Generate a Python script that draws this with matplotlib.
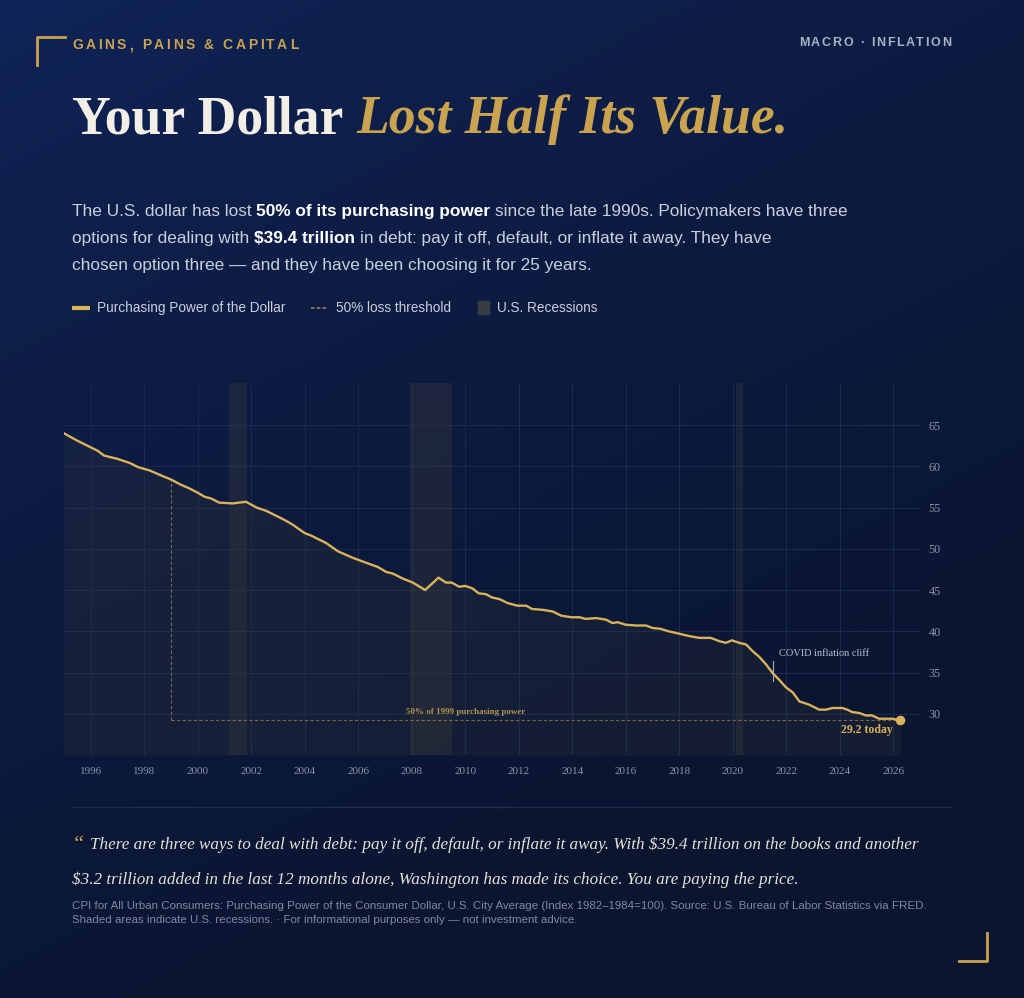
import numpy as np
import matplotlib
matplotlib.use("Agg")
import matplotlib.pyplot as plt
from matplotlib.colors import to_rgb
from matplotlib.lines import Line2D
from matplotlib.patches import Rectangle

# ---------------- data ----------------
years = [1995.0, 1995.5, 1996.0, 1996.25, 1996.5, 1997.0, 1997.46, 1997.77, 1998.2, 1998.7,
         1999.0, 1999.35, 1999.7, 2000.0, 2000.26, 2000.5, 2000.8, 2001.3, 2001.8, 2002.2,
         2002.56, 2003.06, 2003.3, 2003.56, 2004.0, 2004.24, 2004.55, 2004.8, 2005.24, 2005.8,
         2006.3, 2006.73, 2007.04, 2007.29, 2007.66, 2008.04, 2008.5, 2009.0, 2009.28, 2009.5,
         2009.77, 2010.0, 2010.27, 2010.5, 2010.77, 2011.0, 2011.28, 2011.6, 2011.96, 2012.28,
         2012.5, 2012.9, 2013.27, 2013.58, 2013.96, 2014.27, 2014.5, 2014.9, 2015.27, 2015.5,
         2015.7, 2015.99, 2016.38, 2016.76, 2017.0, 2017.3, 2017.6, 2018.0, 2018.4, 2018.75,
         2019.18, 2019.5, 2019.74, 2019.97, 2020.24, 2020.5, 2020.74, 2020.99, 2021.24, 2021.5,
         2021.74, 2021.99, 2022.24, 2022.49, 2022.86, 2023.23, 2023.48, 2023.73, 2024.1, 2024.28,
         2024.47, 2024.72, 2024.97, 2025.2, 2025.47, 2025.72, 2025.97, 2026.26]
power = [64.0, 63.1, 62.3, 61.9, 61.3, 60.9, 60.4, 59.9, 59.5, 58.8,
         58.4, 57.8, 57.3, 56.8, 56.3, 56.1, 55.6, 55.5, 55.7, 55.0,
         54.6, 53.8, 53.4, 52.9, 51.9, 51.6, 51.1, 50.7, 49.7, 48.9,
         48.3, 47.8, 47.2, 47.0, 46.4, 45.9, 45.0, 46.5, 45.9, 45.9,
         45.4, 45.5, 45.2, 44.6, 44.5, 44.1, 43.9, 43.4, 43.1, 43.1,
         42.7, 42.6, 42.4, 41.9, 41.7, 41.7, 41.5, 41.6, 41.4, 41.0,
         41.1, 40.8, 40.7, 40.7, 40.4, 40.3, 40.0, 39.7, 39.4, 39.2,
         39.2, 38.8, 38.6, 38.9, 38.6, 38.4, 37.6, 36.9, 36.0, 34.9,
         34.1, 33.2, 32.6, 31.5, 31.1, 30.5, 30.5, 30.7, 30.7, 30.5,
         30.2, 30.1, 29.8, 29.8, 29.4, 29.4, 29.4, 29.2]
recession_starts = [2001.17, 2007.95, 2020.13]
recession_ends = [2001.83, 2009.5, 2020.4]
base_year = 1999.0
threshold = 29.2
x_ticks = list(range(1996, 2027, 2))
y_ticks = [30, 35, 40, 45, 50, 55, 60, 65]
covid_year = 2021.5
covid_label = "COVID inflation cliff"

# ---------------- styling ----------------
W, H = 1024, 998
GOLD = "#c9a34f"
LINE = "#d9b25c"
SERIF = "Liberation Serif"
SANS = "Liberation Sans"

fig = plt.figure(figsize=(W / 100, H / 100), dpi=100)

# background gradient
bg = fig.add_axes([0, 0, 1, 1])
bg.set_axis_off()
u = np.linspace(0, 1, 256)[None, :]
v = np.linspace(0, 1, 256)[:, None]
t = np.clip(0.45 * u + 0.85 * v, 0, 1) ** 0.7
c0 = np.array(to_rgb("#10255a"))
c1 = np.array(to_rgb("#0a1530"))
img = c0[None, None, :] * (1 - t[..., None]) + c1[None, None, :] * t[..., None]
bg.imshow(img, extent=[0, 1, 0, 1], aspect="auto", origin="upper")
bg.set_xlim(0, 1)
bg.set_ylim(0, 1)

renderer = fig.canvas.get_renderer()


def fx(x):
    return x / W


def fy(y):
    return 1 - y / H


def measure(s, **kw):
    tt = fig.text(0, 0, s, **kw)
    w = tt.get_window_extent(renderer).width
    tt.remove()
    return w


def space_width(**kw):
    return measure("x x", **kw) - measure("xx", **kw)


def draw_runs(x, y, parts, size, family):
    """parts: list of (text, weight, color, style)"""
    for s, weight, color, style in parts:
        kw = dict(fontsize=size, family=family, fontweight=weight, fontstyle=style)
        sw = space_width(**kw)
        lead = len(s) - len(s.lstrip(" "))
        trail = len(s) - len(s.rstrip(" "))
        core = s.strip(" ")
        x += lead * sw
        fig.text(fx(x), fy(y), core, color=color, va="baseline", ha="left", **kw)
        x += measure(core, **kw) + trail * sw
    return x


def spaced(x, y, s, target_w, ha="left", **kw):
    widths = [measure(c, **kw) if c != " " else space_width(**kw) for c in s]
    nat = sum(widths)
    sp = (target_w - nat) / (len(s) - 1)
    if ha == "right":
        x = x - target_w
    for c, w in zip(s, widths):
        if c != " ":
            fig.text(fx(x), fy(y), c, va="baseline", ha="left", **kw)
        x += w + sp


# corner brackets
fig.add_artist(Line2D([fx(37), fx(37), fx(65)], [fy(65), fy(37), fy(37)], color=GOLD, lw=2))
fig.add_artist(Line2D([fx(959), fx(987), fx(987)], [fy(961), fy(961), fy(933)], color=GOLD, lw=2))

# header
spaced(72, 49, "GAINS, PAINS & CAPITAL", 226, fontsize=10, family=SANS, fontweight="bold", color=GOLD)
spaced(951, 46, "MACRO · INFLATION", 152, ha="right", fontsize=9, family=SANS, fontweight="bold",
       color="#a9b3c6")

# title
draw_runs(72, 133, [("Your Dollar ", "bold", "#f3efe7", "normal"),
                    ("Lost Half Its Value.", "bold", GOLD, "italic")], 38.6, SERIF)

# paragraph
PC = "#c9d0dc"
WH = "#ffffff"
PS = 12.45
draw_runs(72, 216, [("The U.S. dollar has lost ", "normal", PC, "normal"),
                    ("50% of its purchasing power", "bold", WH, "normal"),
                    (" since the late 1990s. Policymakers have three", "normal", PC, "normal")], PS, SANS)
draw_runs(72, 243, [("options for dealing with ", "normal", PC, "normal"),
                    ("$39.4 trillion", "bold", WH, "normal"),
                    (" in debt: pay it off, default, or inflate it away. They have", "normal", PC, "normal")],
          PS, SANS)
draw_runs(72, 270, [("chosen option three \u2014 and they have been choosing it for 25 years.", "normal", PC, "normal")],
          PS, SANS)

# legend
LC = "#c9d0dc"
LS = 9.8
fig.add_artist(Line2D([fx(72), fx(90)], [fy(308), fy(308)], color=LINE, lw=3, solid_capstyle="butt"))
fig.text(fx(97), fy(312), "Purchasing Power of the Dollar", fontsize=LS, family=SANS, color=LC, va="baseline")
fig.add_artist(Line2D([fx(311), fx(328)], [fy(308), fy(308)], color="#8c7b52", lw=1.3, ls=(0, (2, 1.2))))
fig.text(fx(336), fy(312), "50% loss threshold", fontsize=LS, family=SANS, color=LC, va="baseline")
fig.add_artist(Rectangle((fx(478), fy(314)), 11 / W, 13 / H, color="#383b45", transform=fig.transFigure))
fig.text(fx(497), fy(312), "U.S. Recessions", fontsize=LS, family=SANS, color=LC, va="baseline")

# ---------------- chart ----------------
ax = fig.add_axes([64 / W, 1 - 755 / H, (920 - 64) / W, (755 - 383) / H])
ax.set_facecolor("none")
ax.set_xlim(1995.0, 2027.0)
ax.set_ylim(25.0, 70.1)
for s in ax.spines.values():
    s.set_visible(False)
ax.set_xticks(x_ticks)
ax.set_yticks(y_ticks)
ax.yaxis.tick_right()
ax.tick_params(axis="both", length=0, colors="#8995ab", labelsize=8)
ax.tick_params(axis="y", pad=6)
ax.tick_params(axis="x", pad=9)
ax.set_yticklabels([str(v) for v in y_ticks], fontsize=8.7)
for lab in ax.get_xticklabels() + ax.get_yticklabels():
    lab.set_fontfamily(SERIF)
ax.grid(True, color="#1b2a4c", lw=0.8)
ax.set_axisbelow(True)

for a, b in zip(recession_starts, recession_ends):
    ax.axvspan(a, b, color="#3a3a3a", alpha=0.36, lw=0, zorder=1)

ax.fill_between(years, power, 25.0, color="#3a3a3a", alpha=0.22, lw=0, zorder=2)
ax.plot(years, power, color=LINE, lw=1.7, zorder=4, solid_joinstyle="round")
ax.scatter([years[-1]], [power[-1]], s=48, color=LINE, zorder=5, lw=0)

# threshold lines
ax.plot([base_year, years[-1]], [threshold, threshold], color=GOLD, alpha=0.55, lw=0.8,
        ls=(0, (3, 2)), zorder=3)
ax.plot([base_year, base_year], [threshold, threshold * 2], color=GOLD, alpha=0.55, lw=0.8,
        ls=(0, (3, 2)), zorder=3)
ax.text(2010.0, threshold + 0.55, "50% of 1999 purchasing power", ha="center", va="bottom",
        fontsize=6.5, family=SERIF, fontweight="bold", color="#b0924f", zorder=6)
ax.text(2025.97, threshold - 0.5, f"{power[-1]:.1f} today", ha="right", va="top",
        fontsize=8.5, family=SERIF, fontweight="bold", color=LINE, zorder=6)

# covid annotation
ax.plot([covid_year, covid_year], [34.0, 36.4], color="#a6aebd", lw=0.8, zorder=6)
ax.text(2021.72, 37.3, covid_label, ha="left", va="center", fontsize=7.5, family=SERIF,
        color="#b8c0cc", zorder=6)

# ---------------- footer ----------------
fig.add_artist(Line2D([fx(72), fx(951)], [fy(807), fy(807)], color="#1e2d50", lw=1))
fig.text(fx(72), fy(850), "\u201c", fontsize=16, family=SERIF, fontstyle="italic", color=GOLD, va="baseline")
QC = "#e6e2da"
QS = 12.36
fig.text(fx(90), fy(849),
         "There are three ways to deal with debt: pay it off, default, or inflate it away. With $39.4 trillion on the books and another",
         fontsize=QS, family=SERIF, fontstyle="italic", color=QC, va="baseline")
fig.text(fx(72), fy(884),
         "$3.2 trillion added in the last 12 months alone, Washington has made its choice. You are paying the price.",
         fontsize=QS, family=SERIF, fontstyle="italic", color=QC, va="baseline")
FC = "#7f8aa0"
FS = 8.25
fig.text(fx(72), fy(909),
         "CPI for All Urban Consumers: Purchasing Power of the Consumer Dollar, U.S. City Average (Index 1982\u20131984=100). Source: U.S. Bureau of Labor Statistics via FRED.",
         fontsize=FS, family=SANS, color=FC, va="baseline")
fig.text(fx(72), fy(923),
         "Shaded areas indicate U.S. recessions. \u00b7 For informational purposes only \u2014 not investment advice.",
         fontsize=FS, family=SANS, color=FC, va="baseline")

fig.savefig("out.png", dpi=100)
